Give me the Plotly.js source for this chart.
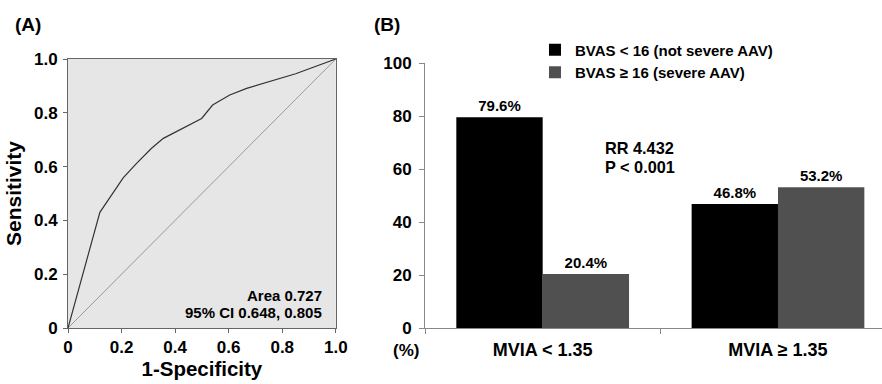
<!DOCTYPE html>
<html><head><meta charset="utf-8">
<script src="https://cdn.plot.ly/plotly-3.0.1.min.js"></script>
<style>html,body{margin:0;padding:0;background:#fff;}#chart{width:882px;height:384px;}</style>
</head><body><div id="chart"></div>
<script>
// Panel A: ROC curve
const rocFpr = [0, 0.119, 0.206, 0.256, 0.312, 0.356, 0.499, 0.54, 0.604, 0.667, 0.85, 1.0];
const rocTpr = [0, 0.43, 0.558, 0.612, 0.668, 0.705, 0.779, 0.829, 0.866, 0.891, 0.945, 1.0];
const diagX = [0, 1];
const diagY = [0, 1];
const unitTicks = [0, 0.2, 0.4, 0.6, 0.8, 1.0];
const unitTickText = ['0', '0.2', '0.4', '0.6', '0.8', '1.0'];

// Panel B: bars
const categories = ['MVIA < 1.35', 'MVIA \u2265 1.35'];
const notSevere = [79.6, 46.8];
const severe = [20.4, 53.2];
const seriesNames = ['BVAS < 16 (not severe AAV)', 'BVAS \u2265 16 (severe AAV)'];
const pctTicks = [0, 20, 40, 60, 80, 100];

const FONT = 'Liberation Sans, Arial, sans-serif';
const bold = (s, c) => ({family: FONT, size: s, color: c || '#000', weight: 'bold'});

const traces = [
  {x: diagX, y: diagY, xaxis: 'x', yaxis: 'y', mode: 'lines', line: {color: '#9a9a9a', width: 1}, showlegend: false, hoverinfo: 'skip'},
  {x: rocFpr, y: rocTpr, xaxis: 'x', yaxis: 'y', mode: 'lines', line: {color: '#333', width: 1.2}, showlegend: false},
  {x: categories, y: notSevere, xaxis: 'x2', yaxis: 'y2', type: 'bar', name: seriesNames[0],
   marker: {color: '#000'}, text: notSevere.map(v => v.toFixed(1) + '%'), textposition: 'outside',
   textfont: bold(15), cliponaxis: false},
  {x: categories, y: severe, xaxis: 'x2', yaxis: 'y2', type: 'bar', name: seriesNames[1],
   marker: {color: '#505050'}, text: severe.map(v => v.toFixed(1) + '%'), textposition: 'outside',
   textfont: bold(15), cliponaxis: false}
];

const layout = {
  width: 882, height: 384,
  margin: {l: 68, r: 0, t: 59, b: 56},
  paper_bgcolor: '#fff', plot_bgcolor: 'rgba(0,0,0,0)',
  barmode: 'group', bargap: 0.266, bargroupgap: 0,
  showlegend: true,
  legend: {x: 0.5737, y: 1.095, xanchor: 'left', yanchor: 'top', font: bold(15), bgcolor: 'rgba(0,0,0,0)', traceorder: 'normal', itemwidth: 30, tracegroupgap: 0},
  xaxis: {domain: [0, 0.329], range: [0, 1], tickvals: unitTicks, ticktext: unitTickText,
    showline: true, mirror: true, linecolor: '#666', linewidth: 1, showgrid: false, zeroline: false,
    ticks: 'outside', ticklen: 4, tickcolor: '#666', tickfont: bold(17),
    title: {text: '1-Specificity', font: bold(20.5), standoff: 4}},
  yaxis: {domain: [0, 1], range: [0, 1], tickvals: unitTicks, ticktext: unitTickText,
    showline: true, mirror: true, linecolor: '#666', linewidth: 1, showgrid: false, zeroline: false,
    ticks: 'outside', ticklen: 4, tickcolor: '#666', tickfont: bold(17), ticklabelstandoff: 2,
    title: {text: 'Sensitivity', font: bold(21), standoff: 6}},
  xaxis2: {domain: [0.4386, 1], range: [-0.5, 1.442], anchor: 'y2',
    showline: true, linecolor: '#888', linewidth: 1, showgrid: false, zeroline: false,
    ticks: 'outside', tickson: 'boundaries', ticklen: 5, tickcolor: '#888', tickfont: bold(18), ticklabelstandoff: 5},
  yaxis2: {domain: [0, 0.984], range: [0, 100], tickvals: pctTicks, anchor: 'x2',
    showline: true, linecolor: '#888', linewidth: 1, showgrid: false, zeroline: false,
    ticks: 'outside', ticklen: 5, tickcolor: '#888', tickfont: bold(17), ticklabelstandoff: 4},
  shapes: [
    {type: 'rect', xref: 'x domain', yref: 'y domain', x0: 0, x1: 1, y0: 0, y1: 1,
     fillcolor: '#e6e6e6', line: {width: 0}, layer: 'below'}
  ],
  annotations: [
    {text: '(A)', xref: 'paper', yref: 'paper', x: -0.068, y: 1.13, xanchor: 'left', yanchor: 'middle', showarrow: false, font: bold(19)},
    {text: '(B)', xref: 'paper', yref: 'paper', x: 0.3735, y: 1.13, xanchor: 'left', yanchor: 'middle', showarrow: false, font: bold(19)},
    {text: 'Area 0.727', xref: 'x', yref: 'y', x: 0.955, y: 0.122, xanchor: 'right', yanchor: 'middle', showarrow: false, font: bold(15)},
    {text: '95% CI 0.648, 0.805', xref: 'x', yref: 'y', x: 0.955, y: 0.057, xanchor: 'right', yanchor: 'middle', showarrow: false, font: bold(15)},
    {text: 'RR 4.432', xref: 'paper', yref: 'paper', x: 0.657, y: 0.669, xanchor: 'left', yanchor: 'middle', showarrow: false, font: bold(16.3)},
    {text: 'P < 0.001', xref: 'paper', yref: 'paper', x: 0.657, y: 0.599, xanchor: 'left', yanchor: 'middle', showarrow: false, font: bold(16.3)},
    {text: '(%)', xref: 'paper', yref: 'paper', x: 0.4152, y: -0.0855, xanchor: 'center', yanchor: 'middle', showarrow: false, font: bold(17)}
  ]
};

Plotly.newPlot('chart', traces, layout, {staticPlot: true, displayModeBar: false});
</script></body></html>
